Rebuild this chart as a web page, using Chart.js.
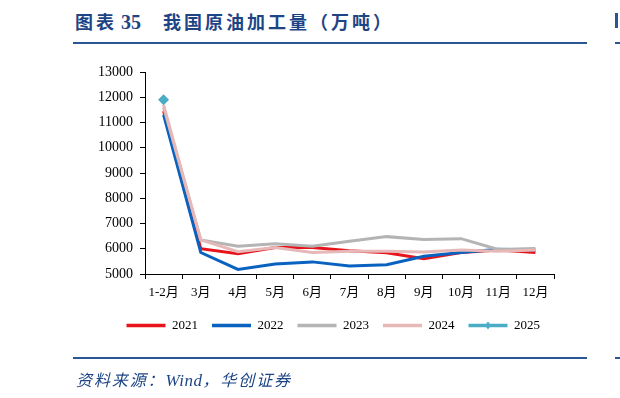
<!DOCTYPE html>
<html>
<head>
<meta charset="utf-8">
<script src="https://cdn.jsdelivr.net/npm/chart.js@4.4.1/dist/chart.umd.min.js"></script>
<style>
  body { margin: 0; background: #fff; }
  #wrap { position: relative; width: 620px; height: 398px; overflow: hidden; }
  #chart { position: absolute; left: 0; top: 0; }
  .title { position: absolute; left: 75px; top: 8px; font: bold 18px "Noto Sans CJK SC", serif; color: #1d4585; letter-spacing: 3px; white-space: nowrap; }
  .title .num { font-family: "Liberation Serif", serif; font-size: 20px; letter-spacing: 0; margin-left: 4px; margin-right: 22px; }
  .rule { position: absolute; height: 2px; background: #2a5696; }
  .src { position: absolute; left: 76px; top: 367px; font: italic 16px "Noto Sans CJK SC", serif; color: #1d4585; letter-spacing: 1.9px; white-space: nowrap; }
  .src i { font-family: "Liberation Serif", serif; font-size: 17px; letter-spacing: 0.5px; }
</style>
</head>
<body>
<div id="wrap">
  <div class="title">图表<span class="num">35</span>我国原油加工量（万吨）</div>
  <div class="rule" style="left:73px; width:514px; top:42px;"></div>
  <div class="rule" style="left:615px; width:5px; top:42px;"></div>
  <div class="rule" style="left:615px; width:3px; top:13px; height:15px;"></div>
  <canvas id="chart" width="620" height="398"></canvas>
  <div class="rule" style="left:73px; width:514px; top:357px;"></div>
  <div class="rule" style="left:615px; width:5px; top:357px;"></div>
  <div class="src">资料来源：<i>Wind</i>，华创证券</div>
</div>
<script>
const months = ['1-2月', '3月', '4月', '5月', '6月', '7月', '8月', '9月', '10月', '11月', '12月'];
const y2021 = [11450, 6000, 5800, 6050, 6050, 5920, 5840, 5600, 5850, 5950, 5850];
const y2022 = [11300, 5850, 5180, 5400, 5480, 5320, 5370, 5700, 5850, 5980, 5950];
const y2023 = [11600, 6350, 6100, 6200, 6100, 6300, 6480, 6370, 6400, 5970, 6010];
const y2024 = [11700, 6350, 5880, 6050, 5850, 5900, 5900, 5870, 5950, 5900, 5950];
const y2025 = [11900, null, null, null, null, null, null, null, null, null, null];

const serif = "'Liberation Serif', 'Times New Roman', 'Noto Sans CJK SC', serif";

function series(label, data, color, order) {
    return {
        label: label,
        data: data,
        borderColor: color,
        backgroundColor: color,
        borderWidth: 3,
        pointRadius: 0,
        pointHoverRadius: 0,
        tension: 0,
        fill: false,
        order: order
    };
}

const sets = [
    series('2021', y2021, '#e8141c', 4),
    series('2022', y2022, '#0a62c0', 3),
    series('2023', y2023, '#b4b4b4', 2),
    series('2024', y2024, '#e6b8b7', 1),
    series('2025', y2025, '#4bacc6', 0)
];
sets[4].pointStyle = 'rectRot';
sets[4].pointRadius = 5.5;
sets[4].pointBorderWidth = 0;

// small diamond on the 2025 legend line
const legendDiamond = {
    id: 'legendDiamond',
    afterDraw(chart) {
        const boxes = chart.legend.legendHitBoxes;
        if (!boxes || !boxes[4]) return;
        const b = boxes[4];
        const ctx = chart.ctx;
        const cx = b.left + 19.5, cy = b.top + b.height / 2;
        ctx.save();
        ctx.fillStyle = '#4bacc6';
        ctx.beginPath();
        ctx.moveTo(cx, cy - 4);
        ctx.lineTo(cx + 3, cy);
        ctx.lineTo(cx, cy + 4);
        ctx.lineTo(cx - 3, cy);
        ctx.closePath();
        ctx.fill();
        ctx.restore();
    }
};

new Chart(document.getElementById('chart'), {
    type: 'line',
    data: { labels: months, datasets: sets },
    plugins: [legendDiamond],
    options: {
        responsive: false,
        animation: false,
        layout: { padding: { left: 0, right: 66, top: 72, bottom: 56 } },
        plugins: {
            tooltip: { enabled: false },
            legend: {
                position: 'bottom',
                align: 'end',
                labels: {
                    usePointStyle: true,
                    pointStyle: 'line',
                    pointStyleWidth: 39,
                    boxHeight: 3,
                    padding: 14,
                    color: '#000',
                    font: { family: serif, size: 13 },
                    generateLabels: function (chart) {
                        return chart.data.datasets.map(function (ds, i) {
                            return {
                                text: ds.label,
                                strokeStyle: ds.borderColor,
                                fillStyle: ds.borderColor,
                                lineWidth: 3.5,
                                pointStyle: 'line',
                                datasetIndex: i,
                                hidden: false
                            };
                        });
                    }
                }
            }
        },
        scales: {
            x: {
                offset: true,
                afterFit: function (s) { s.height = 31; },
                grid: { offset: true, drawOnChartArea: false, drawTicks: true, tickLength: 5, color: '#000' },
                border: { display: true, color: '#000', width: 1 },
                ticks: { color: '#000', font: { family: serif, size: 13 }, padding: 6, maxRotation: 0, autoSkip: false }
            },
            y: {
                min: 5000,
                max: 13000,
                afterFit: function (s) { s.width = 145; },
                grid: { drawOnChartArea: false, drawTicks: true, tickLength: 5, color: '#000' },
                border: { display: true, color: '#000', width: 1 },
                ticks: {
                    stepSize: 1000,
                    color: '#000',
                    font: { family: serif, size: 14 },
                    padding: 7,
                    callback: function (v) { return String(v); }
                }
            }
        }
    }
});
</script>
</body>
</html>
